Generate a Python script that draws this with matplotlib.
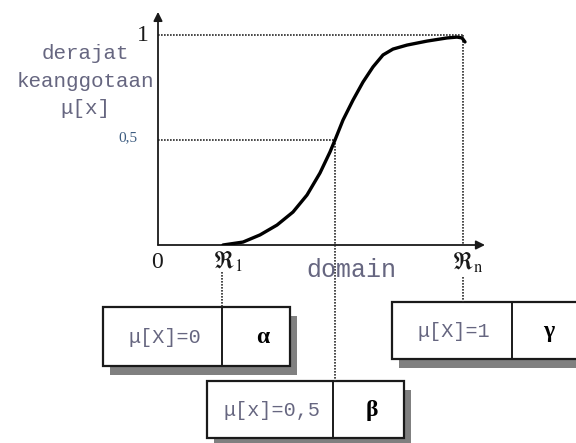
import matplotlib
matplotlib.use("Agg")
import matplotlib.pyplot as plt
from matplotlib.patches import Rectangle

plt.rcParams['mathtext.fontset'] = 'stix'

# membership curve (domain units, membership degree)
domain_x = [6.5, 8.5, 10.2, 11.9, 13.5, 14.9, 16.2, 17.2, 17.7, 18.5, 19.5,
            20.5, 21.5, 22.5, 23.5, 24.9, 26.9, 28.9, 29.9, 30.4, 30.7]
mu = [0.0, 0.014, 0.048, 0.095, 0.157, 0.238, 0.343, 0.443, 0.5, 0.595, 0.69,
      0.776, 0.848, 0.905, 0.933, 0.952, 0.971, 0.986, 0.99, 0.986, 0.967]
r1_x = 6.4
rn_x = 30.5
half_x = 17.7
y_ticks = [1, 0.5]
y_tick_labels = ['1', '0,5']

W, H = 576, 443
fig = plt.figure(figsize=(W / 100, H / 100), dpi=100)

# background layer in pixel coordinates for boxes and side labels
ov = fig.add_axes([0, 0, 1, 1])
ov.set_xlim(0, W)
ov.set_ylim(H, 0)
ov.axis('off')

# the chart itself
ax = fig.add_axes([158 / W, (H - 245) / H, 330 / W, 233 / H])
ax.set_xlim(0, 33)
ax.set_ylim(0, 233 / 210)
ax.patch.set_alpha(0)
ax.axis('off')

ink = '#1a1a1a'
grey_text = '#666680'
dots = dict(color='#2a2a2a', lw=1.2, ls=(0, (1, 0.8)))

ax.annotate('', xy=(0, 1.11), xytext=(0, 0), annotation_clip=False,
            arrowprops=dict(arrowstyle='-|>', lw=1.3, color=ink, mutation_scale=13, shrinkA=0, shrinkB=0))
ax.annotate('', xy=(32.7, 0), xytext=(0, 0), annotation_clip=False,
            arrowprops=dict(arrowstyle='-|>', lw=1.3, color=ink, mutation_scale=13, shrinkA=0, shrinkB=0))

ax.plot([0, rn_x], [1, 1], **dots)
ax.plot([0, half_x], [0.5, 0.5], **dots)
ax.plot([rn_x, rn_x], [1, 0], **dots)
ax.plot(domain_x, mu, color='black', lw=2.4, solid_capstyle='round',
        solid_joinstyle='round', zorder=5)


def to_px(x, y):
    dx, dy = ax.transData.transform((x, y))
    return dx, H - dy


# boxes: left, top, divider, right, bottom (pixels)
boxes = [
    (103, 307, 222, 290, 366, 'μ[X]=0', 'α', 263),
    (392, 302, 512, 595, 359, 'μ[X]=1', 'γ', 549),
    (207, 381, 333, 404, 438, 'μ[x]=0,5', 'β', 372),
]
for left, top, div, right, bottom, lab, greek, gx in boxes:
    ov.add_patch(Rectangle((left + 7, top + 9), right - left, bottom - top,
                           facecolor='#808080', edgecolor='none', zorder=1))
    ov.add_patch(Rectangle((left, top), right - left, bottom - top,
                           facecolor='white', edgecolor=ink, lw=1.6, zorder=2))
    ov.plot([div, div], [top, bottom], color=ink, lw=1.4, zorder=3)
    ov.text((left + div) / 2 + 2, (top + bottom) / 2 + 1, lab, ha='center', va='center',
            family='Liberation Mono', fontsize=14.5, color=grey_text, zorder=4)
    ov.text(gx, (top + bottom) / 2 + 1, greek, ha='center', va='center',
            family='Liberation Serif', fontweight='bold', fontsize=17, color='black', zorder=4)

# connectors from the axis labels down to the boxes
hx, hy = to_px(half_x, 0.5)
ov.plot([hx, hx], [hy, 381], zorder=3, **dots)
r1x, _ = to_px(r1_x, 0)
ov.plot([r1x, r1x], [272, 307], zorder=3, **dots)
rnx, _ = to_px(rn_x, 0)
ov.plot([rnx, rnx], [277, 302], zorder=3, **dots)

# labels
ov.text(85, 81, 'derajat\nkeanggotaan\nμ[x]', ha='center', va='center', linespacing=1.58,
        family='Liberation Mono', fontsize=15, color=grey_text)
for v, t in zip(y_ticks, y_tick_labels):
    px, py = to_px(0, v)
    if t == '1':
        ov.text(px - 15, py, t, ha='center', va='center', family='Liberation Serif',
                fontsize=17, color=ink)
    else:
        ov.text(px - 30, py - 2, t, ha='center', va='center', family='Liberation Serif',
                fontsize=11, color='#3d5c80')
ox, oy = to_px(0, 0)
ov.text(ox - 1, oy + 18, '0', ha='center', va='center', family='Liberation Serif',
        fontsize=17, color=ink)
ov.text(r1x + 6, 262, r'$\Re_{1}$', ha='center', va='center', fontsize=17, color=ink)
ov.text(rnx + 5, 263, r'$\Re_{\mathrm{n}}$', ha='center', va='center', fontsize=17, color=ink)
ov.text(351, 270, 'domain', ha='center', va='center', family='Liberation Mono',
        fontsize=18, color=grey_text, zorder=4)

fig.savefig('out.png', dpi=100, facecolor='white')
